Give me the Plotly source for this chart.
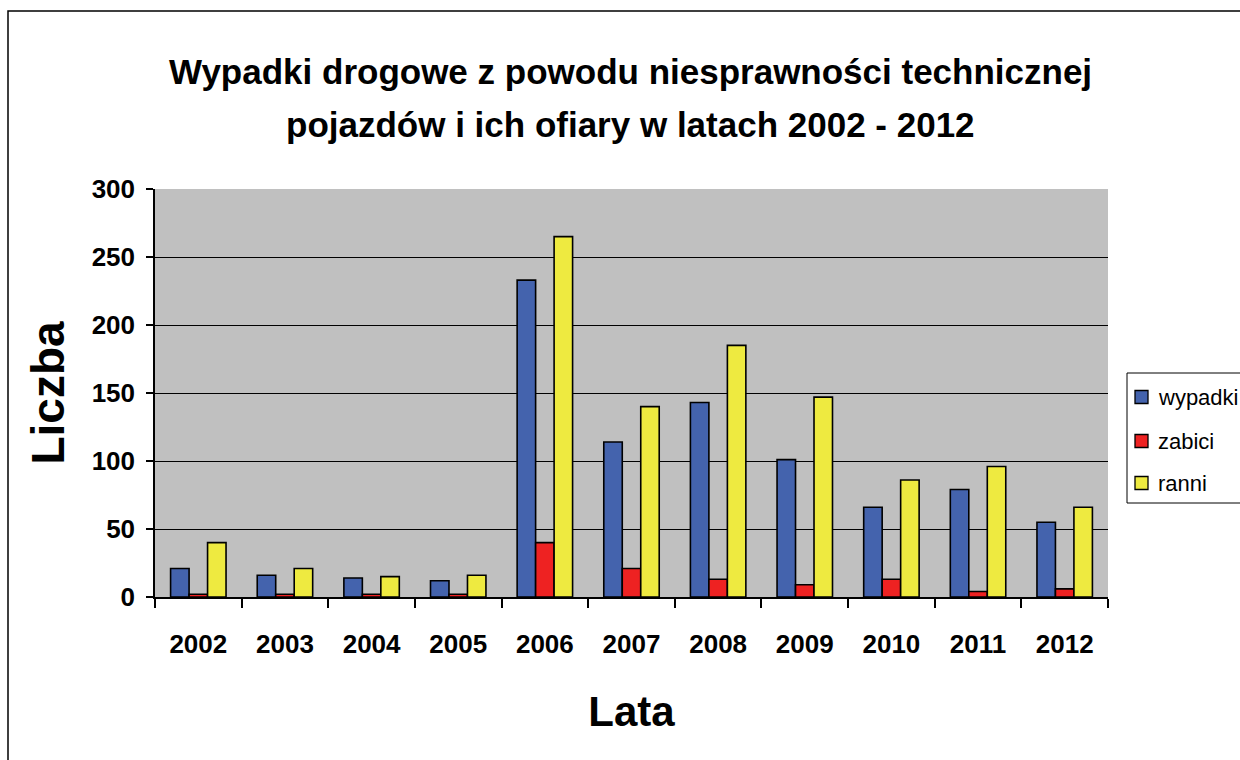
import plotly.graph_objects as go

years = ["2002", "2003", "2004", "2005", "2006", "2007", "2008", "2009", "2010", "2011", "2012"]
wypadki = [21, 16, 14, 12, 233, 114, 143, 101, 66, 79, 55]
zabici = [2, 2, 2, 2, 40, 21, 13, 9, 13, 4, 6]
ranni = [40, 21, 15, 16, 265, 140, 185, 147, 86, 96, 66]
series_names = ["wypadki", "zabici", "ranni"]
series_colors = ["#4463AD", "#EE2222", "#EEEA40"]
title_lines = ["Wypadki drogowe z powodu niesprawności technicznej",
               "pojazdów i ich ofiary w latach 2002 - 2012"]

FONT = "Liberation Sans, Arial, sans-serif"

W, H = 1240, 760
L, R, T, B = 155, 132, 189, 163
PW, PH = W - L - R, H - T - B


def px_x(x):
    return (x - L) / PW


def px_y(y):
    return (H - B - y) / PH


fig = go.Figure()
for name, vals, col in zip(series_names, [wypadki, zabici, ranni], series_colors):
    fig.add_trace(go.Bar(
        x=years, y=vals, name=name, showlegend=False,
        marker=dict(color=col, line=dict(color="black", width=1.6)),
    ))

fig.update_layout(
    width=W, height=H,
    margin=dict(l=L, r=R, t=T, b=B, autoexpand=False),
    paper_bgcolor="white",
    plot_bgcolor="#C0C0C0",
    barmode="group", bargap=0.36, bargroupgap=0,
    font=dict(family=FONT, color="black"),
    showlegend=False,
)

for txt, yy in zip(title_lines, [72, 125]):
    fig.add_annotation(text=txt, xref="paper", yref="paper", x=px_x(630), y=px_y(yy),
                       xanchor="center", yanchor="middle", showarrow=False,
                       font=dict(family=FONT, size=35, color="black", weight="bold"))

fig.update_xaxes(
    type="category",
    showline=True, linecolor="black", linewidth=1.5,
    ticks="outside", tickson="boundaries", ticklen=9, tickcolor="black", tickwidth=1.5,
    ticklabelstandoff=23,
    tickfont=dict(family=FONT, size=26, color="black", weight="bold"),
    title=dict(text="Lata", font=dict(family=FONT, size=42, color="black", weight="bold"), standoff=39),
)
fig.update_yaxes(
    range=[0, 300], dtick=50,
    showline=True, linecolor="black", linewidth=1.5,
    showgrid=True, gridcolor="black", gridwidth=1,
    ticks="outside", ticklen=7, tickcolor="black", tickwidth=1.5,
    ticklabelstandoff=6,
    tickfont=dict(family=FONT, size=26, color="black", weight="bold"),
    title=dict(text="Liczba", font=dict(family=FONT, size=46, color="black", weight="bold"), standoff=13),
    zeroline=False,
)

# outer chart border
fig.add_shape(type="rect", xref="paper", yref="paper",
              x0=px_x(8), x1=px_x(1300), y0=px_y(820), y1=px_y(11),
              line=dict(color="black", width=1.5), fillcolor="rgba(0,0,0,0)", layer="below")

# legend box (drawn by hand for exact placement)
fig.add_shape(type="rect", xref="paper", yref="paper",
              x0=px_x(1127), x1=px_x(1300), y0=px_y(503), y1=px_y(373),
              line=dict(color="black", width=1), fillcolor="white", layer="above")
for name, col, yc in zip(series_names, series_colors, [397, 441, 483]):
    fig.add_shape(type="rect", xref="paper", yref="paper",
                  x0=px_x(1135), x1=px_x(1148), y0=px_y(yc + 6.5), y1=px_y(yc - 6.5),
                  line=dict(color="black", width=1.3), fillcolor=col, layer="above")
    fig.add_annotation(text=name, xref="paper", yref="paper", x=px_x(1156), y=px_y(yc),
                       xanchor="left", yanchor="middle", showarrow=False,
                       font=dict(family=FONT, size=22, color="black"))

fig.write_html("out.html", post_script="document.body.style.margin='0';",
               config={"displayModeBar": False})
